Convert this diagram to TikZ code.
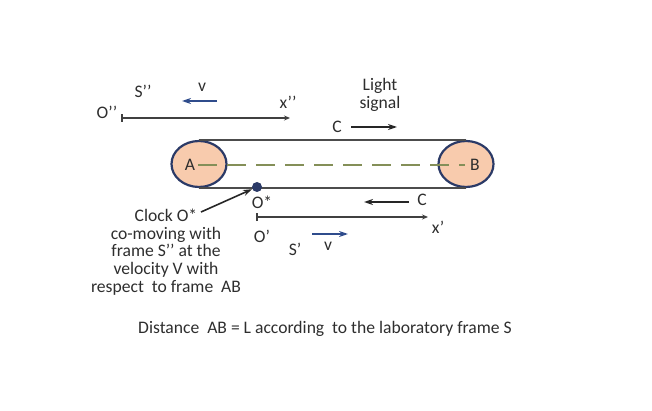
\documentclass[tikz,border=0pt]{standalone}
\usepackage{fontspec}
\setmainfont{Carlito}
\usetikzlibrary{arrows.meta,shapes.geometric}
\definecolor{peach}{HTML}{F8CBAD}
\definecolor{navy}{HTML}{2B3A67}
\definecolor{olivedash}{HTML}{848F58}
\definecolor{driftblue}{HTML}{2F4C8C}
\definecolor{ink}{HTML}{2E2E2E}
\begin{document}
\begin{tikzpicture}[x=0.5pt,y=-0.5pt,
    every node/.style={font=\fontsize{8.8}{8.9}\selectfont, text=ink, inner sep=0pt},
    tube/.style={draw=black!70, line width=1.2pt},
    endcap/.style={ellipse, draw=navy, fill=peach, line width=1.1pt,
      minimum width=27.5pt, minimum height=23pt},
    axis/.style={draw=black!75, line width=1pt,
      {Bar[width=4pt]}-{Stealth[length=3pt,width=2.5pt]}},
    ray/.style={draw=black!85, line width=0.8pt, -{Stealth[length=4.5pt,width=3pt]}},
    drift/.style={draw=driftblue, line width=1.1pt, -{Stealth[length=4.5pt,width=3pt]}}]
  \useasboundingbox (0,0) rectangle (652,411);
  % the rod AB
  \node[endcap] (capA) at (199,164) {};
  \node[endcap] (capB) at (466,164) {};
  \draw[tube] (capA.north) -- (capB.north);
  \draw[tube] (capA.south) -- (capB.south);
  \node (A) at (190,165) {A};
  \node (B) at (475,165) {B};
  \coordinate (lineA) at (198,165);
  \coordinate (lineB) at (465,165);
  \draw[olivedash, line width=1.4pt, dash pattern=on 9.5pt off 5pt] (lineA) -- (lineB);
  % frame S''
  \coordinate (Opp) at (121,118);
  \coordinate (xpp) at (290,118);
  \draw[axis] (Opp) -- (xpp);
  \node (Opplabel) at (107,112) {O’’};
  \node (Spp) at (143,91) {S’’};
  \node (vpp) at (202,87) {v};
  \node (xpplabel) at (288,102) {x’’};
  \coordinate (vppfrom) at (217,101);
  \coordinate (vppto) at (182,101);
  \draw[drift] (vppfrom) -- (vppto);
  % light signal
  \node[align=center] (signal) at (380,95) {Light\\signal};
  \node (C1) at (337,127) {C};
  \coordinate (C1from) at (351,127);
  \coordinate (C1to) at (397,127);
  \draw[ray] (C1from) -- (C1to);
  % clock O*
  \node[circle, fill=navy, minimum size=5pt] (clock) at (257,187) {};
  \node (Ostar) at (262,202) {O*};
  \node[align=center] (clocktext) at (166,252)
    {Clock O*\\co-moving with\\frame S’’ at the\\velocity V with\\respect\ \ to frame\ \ AB};
  \coordinate (pointer) at (201,212);
  \draw[ray] (pointer) -- (clock);
  % returning signal
  \node (C2) at (422,200) {C};
  \coordinate (C2from) at (409,202);
  \coordinate (C2to) at (364,202);
  \draw[ray] (C2from) -- (C2to);
  % frame S'
  \coordinate (Op) at (256,217);
  \coordinate (xp) at (428,217);
  \draw[axis] (Op) -- (xp);
  \node (xplabel) at (438,227) {x’};
  \node (Oplabel) at (262,236) {O’};
  \node (Sp) at (295,249) {S’};
  \node (vp) at (328,246) {v};
  \coordinate (vpfrom) at (312,234);
  \coordinate (vpto) at (348,234);
  \draw[drift] (vpfrom) -- (vpto);
  % caption
  \node (caption) at (325,329) {Distance\ \ AB = L according\ \ to the laboratory frame S};
\end{tikzpicture}
\end{document}
